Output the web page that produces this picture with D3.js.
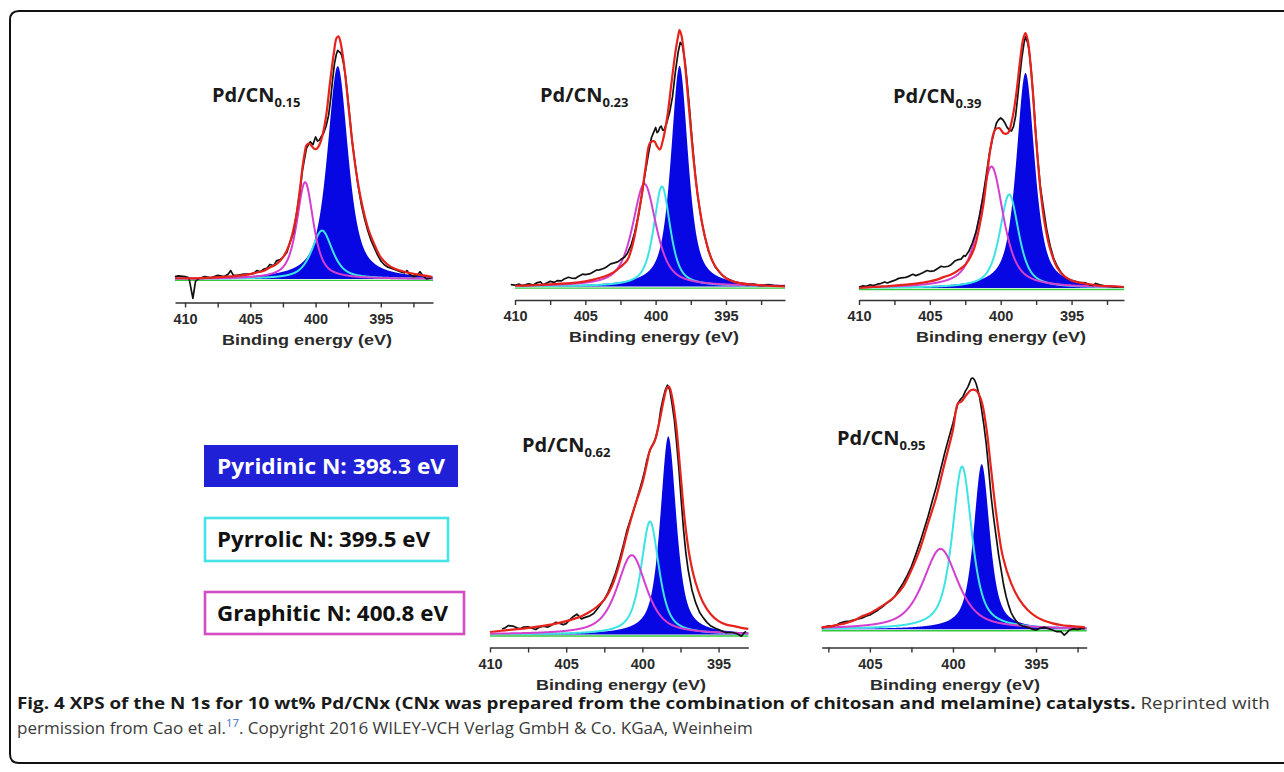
<!DOCTYPE html>
<html>
<head>
<meta charset="utf-8">
<script src="https://cdn.jsdelivr.net/npm/d3@7"></script>
<style>
body { margin: 0; background: #fff; }
svg { display: block; }
</style>
</head>
<body>
<svg id="fig" width="1284" height="772"></svg>
<script>

// sample names (x in CNx) for the five panels
var sampleNames = ["0.15", "0.23", "0.39", "0.62", "0.95"];

// fitted components: [centre eV, height (% of fit max), FWHM eV]
var pyridinicPeaks = [[398.3, 88, 1.9], [398.3, 86, 1.45], [398.25, 85, 1.55], [398.3, 80, 1.25], [398.27, 69, 1.15]];
var pyrrolicPeaks = [[399.5, 20, 1.9], [399.55, 39, 1.4], [399.4, 37, 1.6], [399.5, 45.6, 1.4], [399.45, 68, 1.4]];
var graphiticPeaks = [[400.8, 40, 1.5], [400.8, 40, 2.0], [400.65, 48, 2.0], [400.7, 32, 2.3], [400.75, 33.6, 2.5]];

// measured spectra [eV, intensity %]
var measured015 = [[410.77,1],[410.5,1.3],[410,1],[409.7,0.5],[409.4,-8],[409.2,-1],[409,0],[408.5,1],[408,0.5],[407.5,1.5],[407,1],[406.7,2],[406.5,3.5],[406.3,1.5],[406,1.5],[405.5,2],[405,2],[404.7,2.5],[404.5,3.5],[404.2,3],[404,4],[403.7,4.5],[403.5,6],[403.2,5.5],[403,7.5],[402.7,8],[402.5,9],[402.2,11],[402,14.5],[401.7,19],[401.5,25.5],[401.2,36],[401,45],[400.7,54],[400.5,56],[400.4,56.7],[400.2,55.5],[400,58.7],[399.85,57],[399.7,57.4],[399.55,59],[399.4,60],[399.2,63],[399,67.6],[398.85,74],[398.7,82],[398.55,89],[398.4,93],[398.3,94.5],[398.2,94],[398.1,93.5],[398,92.5],[397.85,89],[397.7,83.5],[397.55,76],[397.4,68.3],[397.2,57],[397,49],[396.75,39],[396.5,31],[396.25,25],[396,20],[395.75,16],[395.5,13],[395.25,10],[395,7.5],[394.75,6],[394.5,5],[394,4],[393.5,3],[393.2,2.5],[393,3.5],[392.8,2],[392.5,1],[392.2,1.5],[392,3],[391.8,1.5],[391.5,0],[391.1,0.5]];
var measured023 = [[410.3,0.7],[410,0.5],[409.7,0.9],[409.5,0.3],[409.2,0.8],[409,1],[408.7,0.6],[408.5,1.3],[408.2,1.8],[408,0.7],[407.7,1.5],[407.5,2],[407.2,1.6],[407,2.3],[406.7,2.2],[406.5,2.9],[406.2,3.6],[406,3.3],[405.7,3.2],[405.5,3.9],[405.2,4.8],[405,4.6],[404.7,4.9],[404.5,5.5],[404.2,6.4],[404,6.5],[403.7,7],[403.5,7.6],[403.2,8.8],[403,9.1],[402.7,9.6],[402.5,10.4],[402.2,11.5],[402,13],[401.75,16],[401.5,20.8],[401.25,27],[401,35],[400.75,44],[400.5,52],[400.3,58],[400.15,60],[400,62],[399.9,60],[399.8,60.5],[399.7,62],[399.6,62.5],[399.5,61],[399.4,61],[399.3,62.5],[399.2,64],[399,68],[398.8,74],[398.6,83.5],[398.4,91.3],[398.25,95.2],[398.1,94],[397.9,87.4],[397.75,79],[397.6,70],[397.45,60],[397.3,50.6],[397.15,42],[397,35],[396.75,26],[396.5,19.5],[396.25,14],[396,10.4],[395.75,7.5],[395.5,5.9],[395.25,4.3],[395,3.3],[394.5,2],[394,1.3],[393.5,0.7],[393,0.9],[392.7,0.4],[392.5,0.3],[392,0.7],[391.5,0.3],[391,0.3],[390.8,0.2]];
var measured039 = [[410,0.4],[409.7,0.9],[409.5,0.7],[409.2,1.3],[409,1],[408.7,1.5],[408.5,1.7],[408.2,2.4],[408,2],[407.7,2.6],[407.5,3],[407.2,3.8],[407,4],[406.7,4.2],[406.5,4.6],[406.2,5.4],[406,4.9],[405.7,5.5],[405.5,6],[405.2,6.9],[405,6.6],[404.7,6.8],[404.5,7.5],[404.2,8.6],[404,8.3],[403.7,8.6],[403.5,9.2],[403.2,10.8],[403,11.2],[402.8,11.4],[402.6,12.8],[402.5,12.5],[402.25,14.5],[402,17.8],[401.75,22],[401.5,28.3],[401.25,36],[401,45.4],[400.8,53],[400.6,58.5],[400.45,62],[400.3,65.2],[400.15,66.5],[400,67.2],[399.85,66.5],[399.7,65.2],[399.55,63.5],[399.4,62.5],[399.25,62],[399.1,63.8],[398.95,68],[398.8,75.6],[398.65,84],[398.5,91.4],[398.35,97],[398.25,99.3],[398.1,97],[398,94],[397.85,86],[397.7,75.6],[397.55,63],[397.4,52],[397.2,40],[397,32.2],[396.75,23],[396.5,16.4],[396.25,11.5],[396,8.5],[395.75,6.2],[395.5,4.6],[395.25,3.6],[395,3],[394.5,2.2],[394,2],[393.7,1.2],[393.5,1],[393.3,1.8],[393,1.3],[392.5,0.7],[392,0.4],[391.5,0.4],[391.3,0.4]];
var measured062 = [[409.2,2.2],[409,2.7],[408.8,3.6],[408.5,3.4],[408.2,2.6],[408,2.3],[407.8,3],[407.5,3.1],[407.2,2.4],[407,2],[406.8,2.8],[406.5,3.4],[406.2,3],[406,3.6],[405.7,4.9],[405.5,4.7],[405.2,4],[405,4.4],[404.8,5.8],[404.5,7.4],[404.3,8.2],[404,6.3],[403.8,6.8],[403.5,7.4],[403.2,8.5],[403,10],[402.75,12],[402.5,14.1],[402.25,17],[402,20.8],[401.75,25],[401.5,30.2],[401.25,36],[401,42.3],[400.75,47],[400.5,51.7],[400.25,57],[400,62.4],[399.85,66],[399.7,70.4],[399.55,73.5],[399.4,75.8],[399.25,77.5],[399.1,79.8],[398.95,84],[398.8,90.6],[398.65,95],[398.5,98.6],[398.35,100.6],[398.2,98.6],[398.05,93],[397.9,86.5],[397.75,77],[397.6,66.4],[397.45,54],[397.3,42.3],[397.15,33],[397,26.2],[396.75,18],[396.5,12.75],[396.25,9],[396,6.7],[395.75,4.8],[395.5,3.4],[395.25,2.6],[395,2],[394.75,1.3],[394.5,0.7],[394.25,0.9],[394,0.7],[393.75,0.2],[393.5,-0.7],[393.35,0.5],[393.2,1.3]];
var measured095 = [[407.9,0.4],[407.7,1],[407.5,1.4],[407.3,1.2],[407,1.8],[406.8,2.6],[406.5,3.2],[406.2,3.4],[406,3.9],[405.7,4.3],[405.5,4.6],[405.2,5.6],[405,6],[404.7,7.2],[404.5,8.1],[404.2,9.6],[404,10.9],[403.75,12],[403.5,13.7],[403.25,16.5],[403,19.3],[402.75,22.5],[402.5,26.2],[402.25,31],[402,36],[401.75,41.5],[401.5,47.1],[401.25,53.5],[401,59.6],[400.75,66.5],[400.5,73.6],[400.25,80],[400,86.1],[399.85,90.5],[399.7,94.4],[399.55,96],[399.4,97.2],[399.25,99.5],[399.1,101.3],[399,103],[398.9,104.8],[398.8,105],[398.7,104.2],[398.6,102.5],[398.5,100],[398.4,97],[398.3,93],[398.15,86],[398,77.7],[397.85,67],[397.7,55.4],[397.55,46.5],[397.4,38.7],[397.25,31],[397.1,24.8],[396.95,18.5],[396.8,13.7],[396.65,10],[396.5,7],[396.35,5],[396.2,3.5],[396,2],[395.75,1.2],[395.5,0.8],[395.25,0.1],[395,-0.3],[394.75,0.5],[394.5,0.8],[394.25,0.3],[394,-0.3],[393.75,-1],[393.5,-1],[393.3,-2.4],[393.15,-1.5],[393,-0.3],[392.75,0.2],[392.5,0],[392.25,0.3],[392.05,0.4]];

// fit envelopes [eV, intensity %]
var fit015 = [[410.77,0.3],[410,0.3],[409,0.3],[408,0.6],[407,0.9],[406,1.3],[405,2],[404.5,2.7],[404,3.3],[403.5,4.7],[403,6.1],[402.5,8.9],[402,14.4],[401.5,25.5],[401.2,37],[401,46.2],[400.85,51.5],[400.7,55.2],[400.5,56],[400.3,55],[400.1,53.8],[399.9,53.8],[399.7,55.5],[399.5,58.7],[399.2,67],[398.9,80.8],[398.6,93.3],[398.4,99.5],[398.25,100.3],[398.1,98.2],[397.8,87.8],[397.5,72.6],[397.2,57.3],[396.9,44.8],[396.5,32.4],[396,21.4],[395.5,14.4],[395,8.9],[394.5,6.1],[394,4.4],[393,2.7],[392,1.7],[391.1,0.9]];
var fit023 = [[410,0.3],[409,0.4],[408,0.7],[407,1],[406,1.3],[405,2],[404.5,2.6],[404,3.3],[403.5,4.2],[403,5.5],[402.5,7.6],[402,10.4],[401.75,14],[401.5,19.5],[401.25,27],[401,35.2],[400.7,46.9],[400.4,56],[400.1,56.6],[399.9,54.7],[399.7,53.4],[399.5,56.6],[399.2,65.1],[398.9,78.1],[398.6,91.1],[398.4,97.6],[398.3,100],[398.15,97.6],[397.9,85.9],[397.6,67.7],[397.3,49.5],[397,35.2],[396.75,26.5],[396.5,19.5],[396,10.4],[395.5,5.9],[395,3.3],[394.5,2],[394,1.3],[393,0.7],[392,0.3],[390.8,0]];
var fit039 = [[410,0],[409,0.4],[408,0.7],[407,1.2],[406,1.7],[405,2.6],[404.5,3.3],[404,4.4],[403.5,5.3],[403,7],[402.5,9.2],[402,13.8],[401.75,18],[401.5,24.3],[401.25,32],[401,42.8],[400.7,55.9],[400.4,62.5],[400.1,63.2],[399.8,61.2],[399.5,61.2],[399.2,66.4],[398.9,76.9],[398.6,91.4],[398.4,98.8],[398.25,100.8],[398.1,98.2],[397.8,82.3],[397.5,58.6],[397.2,38.9],[396.9,25.7],[396.5,15.2],[396,7.9],[395.5,4.6],[395,3],[394.5,2.2],[394,1.7],[393,0.9],[392,0.7],[391.3,0.4]];
var fit062 = [[410,1],[409,1.7],[408,2.3],[407,3.1],[406,4],[405,5.4],[404.5,6.3],[404,7.4],[403.5,9],[403,11.1],[402.5,14.1],[402,19.5],[401.5,28.8],[401,40.9],[400.5,51.7],[400,61.1],[399.7,69.1],[399.5,74.5],[399.2,77.9],[398.9,85.3],[398.6,94.6],[398.4,99.3],[398.25,100],[398.1,97.3],[397.8,85.3],[397.5,65.1],[397.2,45],[396.9,31.5],[396.5,20.8],[396,12.75],[395.5,8.1],[395,5.4],[394.5,4],[394,3.4],[393.5,2.7],[393.05,2.3]];
var fit095 = [[407.9,0.8],[407.5,1.1],[407,1.8],[406.5,2.5],[406,3.6],[405.5,5.3],[405,6.7],[404.5,8.7],[404,10.9],[403.5,13.7],[403,17.8],[402.5,24.8],[402,33.2],[401.5,44.3],[401,55.4],[400.5,69.4],[400,83.3],[399.7,94.4],[399.5,95.1],[399.2,97.9],[398.9,100],[398.6,99.7],[398.3,95.8],[398,84.7],[397.7,66.6],[397.4,48.5],[397,30.4],[396.5,19.3],[396,12.4],[395.5,8.1],[395,5.3],[394.5,3.6],[394,2.5],[393.5,1.8],[393,1.4],[392.5,1.1],[392.05,0.8]];

var measuredSpectra = [measured015, measured023, measured039, measured062, measured095];
var fitSpectra = [fit015, fit023, fit039, fit062, fit095];

// axis ticks
var tickEnergies = [410, 407.5, 405, 402.5, 400, 397.5, 395, 392.5];
var labelEnergies = [410, 405, 400, 395];

var legendLabels = ["Pyridinic N: 398.3 eV", "Pyrrolic N: 399.5 eV", "Graphitic N: 400.8 eV"];

var captionBold = "Fig. 4 XPS of the N 1s for 10 wt% Pd/CNx (CNx was prepared from the combination of chitosan and melamine) catalysts.";

// where each panel sits on the page
var panelLayout = [
	{dom: [410.77, 391.0], range: [175, 433], axisY: 302.5, base: 279, top: 37, label: [212, 101.5], xlabelX: 307},
	{dom: [410, 390.8], range: [515, 785], axisY: 300, base: 286.5, top: 30, label: [540, 101.5], xlabelX: 654},
	{dom: [410, 391.3], range: [859, 1124], axisY: 300, base: 288, top: 35, label: [893, 102.5], xlabelX: 1001},
	{dom: [410, 393.05], range: [490, 748.3], axisY: 647.5, base: 634.5, top: 386.7, label: [522, 451.5], xlabelX: 621},
	{dom: [407.9, 391.95], range: [821.7, 1086.7], axisY: 647.5, base: 629.3, top: 390, label: [837, 445], xlabelX: 955}
];

var colors = {blue: "#0707e4", cyan: "#3ee4e4", magenta: "#d43fcf", green: "#34c93c", red: "#e5221c", black: "#111"};

var svg = d3.select("#fig");

// outer frame
svg.append("path")
	.attr("d", "M1292,11 H19 Q10,11 10,20 V754 Q10,763 19,763 H1292")
	.attr("fill", "none")
	.attr("stroke", "#111")
	.attr("stroke-width", 2);

// pseudo-Voigt line shape used by the fit
function peakValue(e, p) {
	var r = 4 * Math.pow((e - p[0]) / p[2], 2);
	return p[1] * (0.7 / (1 + r) + 0.3 * Math.exp(-Math.LN2 * r));
}

function drawPanel(i) {

	var L = panelLayout[i];

	var x = d3.scaleLinear().domain(L.dom).range(L.range);
	var y = d3.scaleLinear().domain([0, 100]).range([L.base, L.top]);

	var g = svg.append("g").attr("class", "panel");

	var energies = d3.range(L.dom[1], L.dom[0] + 0.0001, 0.02);

	// baseline
	g.append("line")
		.attr("x1", L.range[0]).attr("x2", L.range[1])
		.attr("y1", y(-0.6)).attr("y2", y(-0.6))
		.attr("stroke", colors.green)
		.attr("stroke-width", 1.3);

	g.append("path")
		.datum(energies)
		.attr("d", d3.area()
			.x(function(e) { return x(e); })
			.y0(y(0))
			.y1(function(e) { return y(peakValue(e, pyridinicPeaks[i])); }))
		.attr("fill", colors.blue);

	var compLine = function(p) {
		return d3.line()
			.x(function(e) { return x(e); })
			.y(function(e) { return y(peakValue(e, p)); });
	};

	g.append("path")
		.datum(energies)
		.attr("d", compLine(pyrrolicPeaks[i]))
		.attr("fill", "none")
		.attr("stroke", colors.cyan)
		.attr("stroke-width", 2);

	g.append("path")
		.datum(energies)
		.attr("d", compLine(graphiticPeaks[i]))
		.attr("fill", "none")
		.attr("stroke", colors.magenta)
		.attr("stroke-width", 2);

	g.append("path")
		.datum(measuredSpectra[i])
		.attr("d", d3.line()
			.x(function(d) { return x(d[0]); })
			.y(function(d) { return y(d[1]); }))
		.attr("fill", "none")
		.attr("stroke", colors.black)
		.attr("stroke-width", 1.7)
		.attr("stroke-linejoin", "round");

	g.append("path")
		.datum(fitSpectra[i])
		.attr("d", d3.line()
			.curve(d3.curveCatmullRom)
			.x(function(d) { return x(d[0]); })
			.y(function(d) { return y(d[1]); }))
		.attr("fill", "none")
		.attr("stroke", colors.red)
		.attr("stroke-width", 2.2);

	// x axis
	var ticks = tickEnergies.filter(function(e) { return e <= L.dom[0] + 1e-6 && e >= L.dom[1] - 1e-6; });

	var axis = g.append("g")
		.attr("transform", "translate(0," + L.axisY + ")")
		.call(d3.axisBottom(x)
			.tickValues(ticks)
			.tickSize(5)
			.tickSizeOuter(0)
			.tickPadding(6)
			.tickFormat(function(d) { return labelEnergies.indexOf(d) >= 0 ? d : ""; }));

	axis.select(".domain").attr("stroke", "#333").attr("stroke-width", 1.7);
	axis.selectAll(".tick line").attr("stroke", "#333").attr("stroke-width", 1.4);
	axis.selectAll(".tick text")
		.attr("fill", "#2a2a2a")
		.style("font-family", "'Liberation Sans', Arial, sans-serif")
		.style("font-weight", "bold")
		.style("font-size", "14.5px");

	g.append("text")
		.attr("x", L.xlabelX)
		.attr("y", L.axisY + 42)
		.attr("text-anchor", "middle")
		.attr("textLength", 170)
		.attr("lengthAdjust", "spacingAndGlyphs")
		.attr("fill", "#2a2a2a")
		.style("font-family", "'Liberation Sans', Arial, sans-serif")
		.style("font-weight", "bold")
		.style("font-size", "15.5px")
		.text("Binding energy (eV)");

	// sample label
	var lab = g.append("text")
		.attr("x", L.label[0])
		.attr("y", L.label[1])
		.attr("fill", "#1a1a1a")
		.style("font-family", "'Open Sans', sans-serif")
		.style("font-weight", "bold")
		.style("font-size", "20px");
	lab.append("tspan").text("Pd/CN");
	lab.append("tspan").attr("dy", 5).style("font-size", "13px").text(sampleNames[i]);

}

for (var i = 0; i < sampleNames.length; i++) {
	drawPanel(i);
}

// legend boxes
var legendBoxes = [
	{x: 204, y: 445, w: 254, h: 42, fill: "#2020d6", stroke: "none", text: "#fff", tw: 228},
	{x: 205, y: 518, w: 243, h: 43, fill: "#fff", stroke: "#45e2e6", text: "#111", tw: 213},
	{x: 205, y: 592, w: 259, h: 42, fill: "#fff", stroke: "#d24cc4", text: "#111", tw: 231}
];

var legend = svg.append("g").attr("class", "legend");

legend.selectAll("rect")
	.data(legendBoxes)
	.enter()
	.append("rect")
	.attr("x", function(d) { return d.x; })
	.attr("y", function(d) { return d.y; })
	.attr("width", function(d) { return d.w; })
	.attr("height", function(d) { return d.h; })
	.attr("fill", function(d) { return d.fill; })
	.attr("stroke", function(d) { return d.stroke; })
	.attr("stroke-width", 2.6);

legend.selectAll("text")
	.data(legendBoxes)
	.enter()
	.append("text")
	.attr("x", 217)
	.attr("y", function(d) { return d.y + d.h / 2 + 7.8; })
	.attr("textLength", function(d) { return d.tw; })
	.attr("lengthAdjust", "spacingAndGlyphs")
	.attr("fill", function(d) { return d.text; })
	.style("font-family", "'Open Sans', sans-serif")
	.style("font-weight", "bold")
	.style("font-size", "22px")
	.text(function(d, i) { return legendLabels[i]; });

// caption
function fitLine(sel, x, y, width) {
	var w = sel.node().getComputedTextLength();
	sel.attr("transform", "translate(" + x + "," + y + ") scale(" + (width / w) + ",1)");
}

var cap1 = svg.append("text")
	.attr("x", 0).attr("y", 0)
	.style("font-family", "'Open Sans', sans-serif")
	.style("font-size", "16.5px");
cap1.append("tspan").attr("font-weight", "bold").attr("fill", "#1a1a1a").text(captionBold);
cap1.append("tspan").attr("fill", "#3a3a3a").text(" Reprinted with");
fitLine(cap1, 17, 709, 1253);

var cap2 = svg.append("text")
	.attr("x", 0).attr("y", 0)
	.attr("fill", "#3a3a3a")
	.style("font-family", "'Open Sans', sans-serif")
	.style("font-size", "16.5px");
cap2.append("tspan").text("permission from Cao et al.");
cap2.append("tspan").attr("dy", -7).attr("fill", "#3b6fc9").style("font-size", "11px").text("17");
cap2.append("tspan").attr("dy", 7).text(". Copyright 2016 WILEY-VCH Verlag GmbH & Co. KGaA, Weinheim");
fitLine(cap2, 17, 734, 736);

</script>
</body>
</html>
